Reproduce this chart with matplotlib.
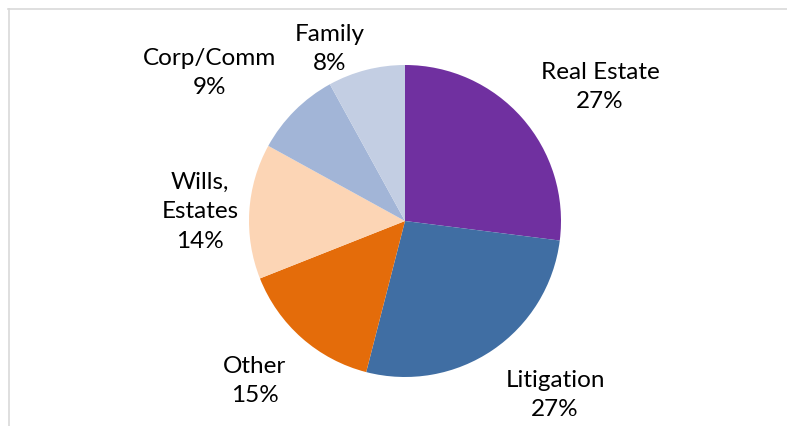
import matplotlib
matplotlib.use("Agg")
import matplotlib.pyplot as plt

categories = ["Real Estate", "Litigation", "Other", "Wills,\nEstates", "Corp/Comm", "Family"]
values = [27, 27, 15, 14, 9, 8]
colors = ["#7030A0", "#406EA3", "#E46C0A", "#FCD5B5", "#A2B5D7", "#C3CEE3"]

# label anchor positions in pixel coordinates (layout)
label_pos = [(600, 87), (555, 395), (255, 381), (200, 212), (210, 73), (330, 49)]

W, H = 787, 427
fig = plt.figure(figsize=(W / 100, H / 100), dpi=100)
ax = fig.add_axes([0, 0, 1, 1])

cx, cy, r = 405, H - 222, 156
ax.pie(values, colors=colors, startangle=90, counterclock=False,
       center=(cx, cy), radius=r, frame=True,
       wedgeprops=dict(linewidth=0))
ax.set_xlim(0, W)
ax.set_ylim(0, H)
ax.set_aspect("equal")
ax.axis("off")

for cat, v, (px, py) in zip(categories, values, label_pos):
    ax.text(px, H - py, f"{cat}\n{v}%", ha="center", va="center",
            fontsize=17.5, family=["Lato", "DejaVu Sans"], color="#000000",
            linespacing=1.5)

# chart border (cropped at right and bottom)
fig.add_artist(plt.Line2D([8 / W, 1], [1 - 10 / H, 1 - 10 / H],
                          transform=fig.transFigure, color="#D9D9D9", lw=1.2))
fig.add_artist(plt.Line2D([9 / W, 9 / W], [0, 1 - 10 / H],
                          transform=fig.transFigure, color="#D9D9D9", lw=1.2))

fig.savefig("out.png", dpi=100, facecolor="white")
